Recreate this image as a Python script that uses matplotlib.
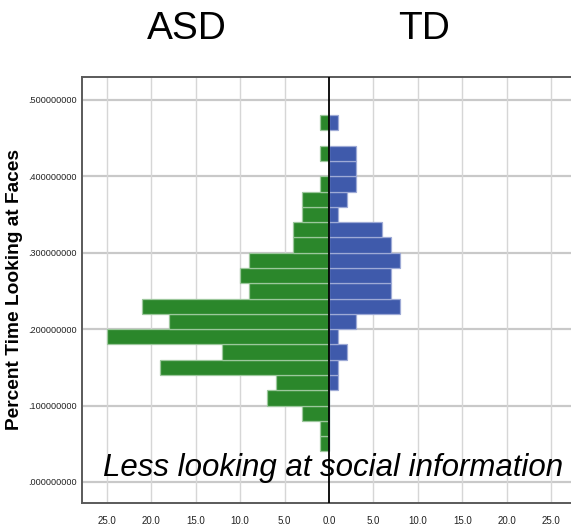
import matplotlib
matplotlib.use("Agg")
import matplotlib.pyplot as plt
from matplotlib.ticker import FuncFormatter

# Histogram bins (lower edges, width 0.02) of percent time looking at faces
bin_lower = [0.04, 0.06, 0.08, 0.10, 0.12, 0.14, 0.16, 0.18, 0.20, 0.22, 0.24,
             0.26, 0.28, 0.30, 0.32, 0.34, 0.36, 0.38, 0.40, 0.42, 0.44, 0.46]
bin_width = 0.02

# Frequency per bin for each group
asd_counts = [1, 1, 3, 7, 6, 19, 12, 25, 18, 21, 9,
              10, 9, 4, 4, 3, 3, 1, 0, 1, 0, 1]
td_counts = [0, 0, 0, 0, 1, 1, 2, 1, 3, 8, 7,
             7, 8, 7, 6, 1, 2, 3, 3, 3, 0, 1]

group_labels = ["ASD", "TD"]
y_label = "Percent Time Looking at Faces"
note = "Less looking at social information"
y_ticks = [0.0, 0.1, 0.2, 0.3, 0.4, 0.5]
x_ticks = [-25, -20, -15, -10, -5, 0, 5, 10, 15, 20, 25]

W, H = 571, 526
fig = plt.figure(figsize=(W / 100, H / 100), dpi=100)
fig.patch.set_facecolor("white")

# axes box: left edge at x=82, top at y=77, bottom at y=503; right side runs past the figure
x0, x1 = 82, 576
y_top, y_bot = 77, 503
ax = fig.add_axes([x0 / W, 1 - y_bot / H, (x1 - x0) / W, (y_bot - y_top) / H])

centers = [b + bin_width / 2 for b in bin_lower]
green = "#2b872b"
blue = "#3f5aab"
ax.barh(centers, [-c for c in asd_counts], height=bin_width, color=green,
        edgecolor="#9cc79c", linewidth=0.9, zorder=3)
ax.barh(centers, td_counts, height=bin_width, color=blue,
        edgecolor="#9eaad6", linewidth=0.9, zorder=3)

ax.set_xlim(-27.8, 27.8)
ax.set_ylim(-0.0275, 0.530)

# grid
for yv in y_ticks:
    ax.axhline(yv, color="#c9c9c9", linewidth=1.6, zorder=1)
for xv in x_ticks:
    if xv != 0:
        ax.axvline(xv, color="#d6d6d6", linewidth=1.0, zorder=1)
ax.axvline(0, color="black", linewidth=1.3, zorder=4)

ax.set_yticks(y_ticks)
ax.set_xticks(x_ticks)
ax.yaxis.set_major_formatter(FuncFormatter(lambda v, p: ("%.9f" % v).lstrip("0")))
ax.xaxis.set_major_formatter(FuncFormatter(lambda v, p: "%.1f" % abs(v)))
tick_family = ["Liberation Sans", "DejaVu Sans"]
ax.tick_params(axis="both", length=0, colors="#333333")
ax.tick_params(axis="y", pad=4)
ax.tick_params(axis="x", pad=9)
for lab in ax.get_yticklabels():
    lab.set_fontfamily(tick_family)
    lab.set_fontsize(6.6)
    lab.set_color("#222222")
for lab in ax.get_xticklabels():
    lab.set_fontfamily(tick_family)
    lab.set_fontsize(7)
    lab.set_color("#222222")

for side in ["left", "top", "bottom"]:
    ax.spines[side].set_color("#5a5a5a")
    ax.spines[side].set_linewidth(1.4)
ax.spines["right"].set_visible(False)

# group titles
fig.text(187 / W, 1 - 39 / H, group_labels[0], fontsize=28, family="Liberation Sans",
         ha="center", va="baseline")
fig.text(424 / W, 1 - 39 / H, group_labels[1], fontsize=28, family="Liberation Sans",
         ha="center", va="baseline")

# axis title
fig.text(15 / W, 1 - 290 / H, y_label, fontsize=13.8, fontweight="bold",
         family="Liberation Sans", rotation=90, ha="center", va="center")

# annotation
fig.text(103 / W, 1 - 476 / H, note, fontsize=22.5, style="italic",
         family="Liberation Sans", ha="left", va="baseline", zorder=10)

fig.savefig("out.png", dpi=100, facecolor="white")
